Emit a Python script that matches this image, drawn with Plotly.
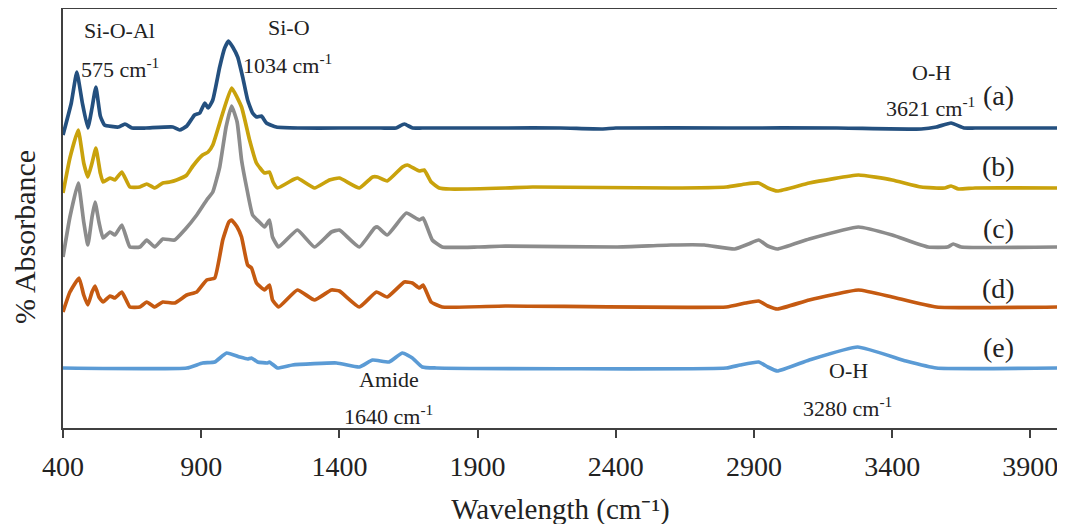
import plotly.graph_objects as go

# ---------------- data (wavenumber in cm-1, absorbance in arbitrary units) ----------------
labels = ["(a)", "(b)", "(c)", "(d)", "(e)"]
offsets = [3.00, 2.40, 1.81, 1.21, 0.60]
colors = ["#24507F", "#C9A20C", "#8C8C8C", "#C55A11", "#5B9BD5"]

wn_a = [400, 430, 450, 470, 490, 505, 519, 535, 550, 600, 624, 650, 700, 797, 822, 848, 876, 895,
        913, 925, 942, 967, 985, 999, 1014, 1032, 1050, 1068, 1086, 1100, 1118, 1136, 1172, 1250,
        1400, 1550, 1605, 1635, 1665, 1700, 2000, 2200, 2350, 2400, 2800, 3200, 3505, 3560, 3613,
        3660, 3700, 4000]
ab_a = [-0.07, 0.25, 0.56, 0.25, 0.00, 0.20, 0.41, 0.12, 0.03, 0.01, 0.04, 0.00, 0.00, 0.01, -0.02,
        0.02, 0.13, 0.15, 0.25, 0.20, 0.28, 0.61, 0.80, 0.87, 0.81, 0.71, 0.51, 0.28, 0.15, 0.11,
        0.12, 0.05, 0.01, 0.00, 0.00, 0.00, 0.00, 0.04, 0.00, 0.00, 0.00, 0.00, -0.01, 0.00, 0.00,
        0.00, -0.01, 0.01, 0.05, 0.00, 0.00, 0.00]

wn_b = [400, 425, 455, 475, 490, 505, 519, 535, 545, 570, 588, 613, 642, 678, 703, 732, 761, 786,
        811, 848, 870, 905, 925, 942, 978, 1010, 1046, 1075, 1100, 1129, 1147, 1160, 1176, 1230,
        1248, 1310, 1364, 1400, 1472, 1520, 1538, 1573, 1628, 1646, 1689, 1707, 1732, 1761, 1800,
        2000, 2100, 2600, 2800, 2870, 2917, 2950, 2985, 3100, 3278, 3400, 3505, 3590, 3613, 3640,
        3700, 4000]
ab_b = [-0.05, 0.30, 0.58, 0.25, 0.11, 0.25, 0.40, 0.15, 0.06, 0.10, 0.08, 0.16, 0.01, 0.01, 0.04,
        0.00, 0.05, 0.06, 0.08, 0.13, 0.22, 0.33, 0.36, 0.43, 0.75, 1.00, 0.81, 0.48, 0.25, 0.15,
        0.16, 0.06, 0.00, 0.08, 0.10, 0.00, 0.08, 0.10, 0.00, 0.11, 0.11, 0.07, 0.21, 0.23, 0.17,
        0.18, 0.06, 0.00, -0.01, 0.00, 0.01, 0.00, 0.01, 0.04, 0.05, 0.00, -0.03, 0.05, 0.13, 0.08,
        0.01, 0.00, 0.02, -0.01, 0.00, 0.00]

wn_c = [400, 425, 455, 475, 490, 505, 516, 530, 545, 570, 588, 613, 642, 678, 703, 732, 761, 804,
        840, 884, 920, 942, 967, 990, 1010, 1030, 1046, 1064, 1086, 1110, 1129, 1147, 1158, 1180,
        1248, 1310, 1371, 1400, 1472, 1527, 1538, 1573, 1642, 1689, 1703, 1736, 1772, 1900, 2000,
        2400, 2600, 2720, 2830, 2880, 2917, 2950, 2985, 3100, 3278, 3400, 3530, 3600, 3621, 3650,
        4000]
ab_c = [-0.10, 0.30, 0.64, 0.25, 0.02, 0.30, 0.45, 0.25, 0.09, 0.15, 0.12, 0.22, 0.00, 0.00, 0.07,
        0.00, 0.08, 0.07, 0.17, 0.32, 0.47, 0.55, 0.80, 1.20, 1.41, 1.25, 0.87, 0.60, 0.32, 0.25,
        0.20, 0.27, 0.10, 0.00, 0.17, 0.00, 0.15, 0.17, 0.00, 0.19, 0.20, 0.12, 0.34, 0.27, 0.29,
        0.07, 0.00, 0.00, 0.01, 0.00, 0.02, 0.02, -0.02, 0.03, 0.07, 0.01, -0.02, 0.08, 0.20, 0.12,
        0.00, 0.00, 0.03, 0.00, 0.00]

wn_d = [400, 425, 458, 475, 490, 505, 516, 530, 545, 570, 588, 613, 642, 678, 703, 732, 761, 804,
        848, 884, 920, 949, 978, 1000, 1010, 1030, 1046, 1068, 1082, 1100, 1129, 1147, 1158, 1180,
        1248, 1310, 1371, 1400, 1472, 1534, 1573, 1635, 1664, 1689, 1703, 1732, 1772, 2000, 2800,
        2870, 2917, 2950, 2985, 3100, 3278, 3400, 3560, 4000]
ab_d = [-0.05, 0.15, 0.29, 0.12, 0.02, 0.15, 0.21, 0.10, 0.05, 0.11, 0.09, 0.15, 0.00, 0.00, 0.05,
        0.00, 0.05, 0.04, 0.12, 0.15, 0.27, 0.29, 0.67, 0.85, 0.87, 0.80, 0.70, 0.42, 0.39, 0.24,
        0.17, 0.22, 0.07, 0.00, 0.17, 0.07, 0.17, 0.16, 0.00, 0.15, 0.10, 0.25, 0.24, 0.19, 0.22,
        0.05, 0.00, 0.01, 0.00, 0.04, 0.06, 0.01, -0.02, 0.07, 0.17, 0.10, 0.00, 0.00]

wn_e = [400, 848, 905, 949, 992, 1039, 1068, 1082, 1104, 1140, 1147, 1176, 1230, 1390, 1472, 1520,
        1580, 1628, 1664, 1700, 1750, 2800, 2850, 2917, 2950, 2985, 3100, 3275, 3450, 3560, 4000]
ab_e = [0.00, 0.00, 0.05, 0.06, 0.15, 0.11, 0.09, 0.10, 0.06, 0.05, 0.06, 0.00, 0.03, 0.05, 0.01,
        0.08, 0.06, 0.15, 0.10, 0.01, 0.00, 0.00, 0.03, 0.06, 0.01, -0.03, 0.08, 0.21, 0.07, 0.00,
        0.00]

series_wn = [wn_a, wn_b, wn_c, wn_d, wn_e]
series_ab = [ab_a, ab_b, ab_c, ab_d, ab_e]

x_ticks = [400, 900, 1400, 1900, 2400, 2900, 3400, 3900]

FONT = "Liberation Serif, Times New Roman, serif"

fig = go.Figure()
for name, wn, ab, off, col in zip(labels, series_wn, series_ab, offsets, colors):
    fig.add_trace(go.Scatter(
        x=wn, y=[v + off for v in ab], mode="lines", name=name,
        line=dict(color=col, width=3.7, shape="spline", smoothing=0.4),
        showlegend=False, hoverinfo="skip"))

# series labels
for name, off in zip(labels, [3.33, 2.62, 2.00, 1.40, 0.81]):
    fig.add_annotation(x=3785, y=off, text=name, showarrow=False,
                       font=dict(family=FONT, size=28, color="#222222"))

notes = [
    (606, 3.98, "Si-O-Al"),
    (606, 3.60, "575 cm<sup>-1</sup>"),
    (1216, 4.01, "Si-O"),
    (1213, 3.64, "1034 cm<sup>-1</sup>"),
    (3541, 3.56, "O-H"),
    (3537, 3.21, "3621 cm<sup>-1</sup>"),
    (1580, 0.49, "Amide"),
    (1578, 0.13, "1640 cm<sup>-1</sup>"),
    (3241, 0.58, "O-H"),
    (3238, 0.21, "3280 cm<sup>-1</sup>"),
]
for x, y, t in notes:
    fig.add_annotation(x=x, y=y, text=t, showarrow=False,
                       font=dict(family=FONT, size=22, color="#222222"))

# y-axis title (placed as a rotated label left of the axis, slightly below centre as in the original)
fig.add_annotation(xref="paper", yref="paper", x=0, y=0.456, xshift=-38,
                   xanchor="center", yanchor="middle",
                   text="% Absorbance", textangle=-90, showarrow=False,
                   font=dict(family=FONT, size=30, color="#222222"))

# the page body adds an 8 px offset at top-left; margins compensate for it
fig.update_layout(
    width=1065, height=524,
    margin=dict(l=55, r=15, t=1, b=104),
    paper_bgcolor="white", plot_bgcolor="white",
    font=dict(family=FONT, color="#222222"),
)
fig.update_xaxes(
    range=[400, 4000], tickmode="array", tickvals=x_ticks,
    ticks="outside", ticklen=8, tickcolor="#404040", tickwidth=1.5,
    ticklabelstandoff=5,
    showline=True, linecolor="#404040", linewidth=1.5, mirror=True,
    showgrid=False, zeroline=False,
    tickfont=dict(family=FONT, size=28, color="#222222"),
    title=dict(text="Wavelength (cm⁻¹)", font=dict(family=FONT, size=29, color="#222222"), standoff=17),
    automargin=False,
)
fig.update_yaxes(
    range=[0, 4.19], showticklabels=False, ticks="",
    showline=True, linecolor="#404040", linewidth=1.5, mirror=True,
    showgrid=False, zeroline=False,
    automargin=False,
)

fig.write_html("out.html")
